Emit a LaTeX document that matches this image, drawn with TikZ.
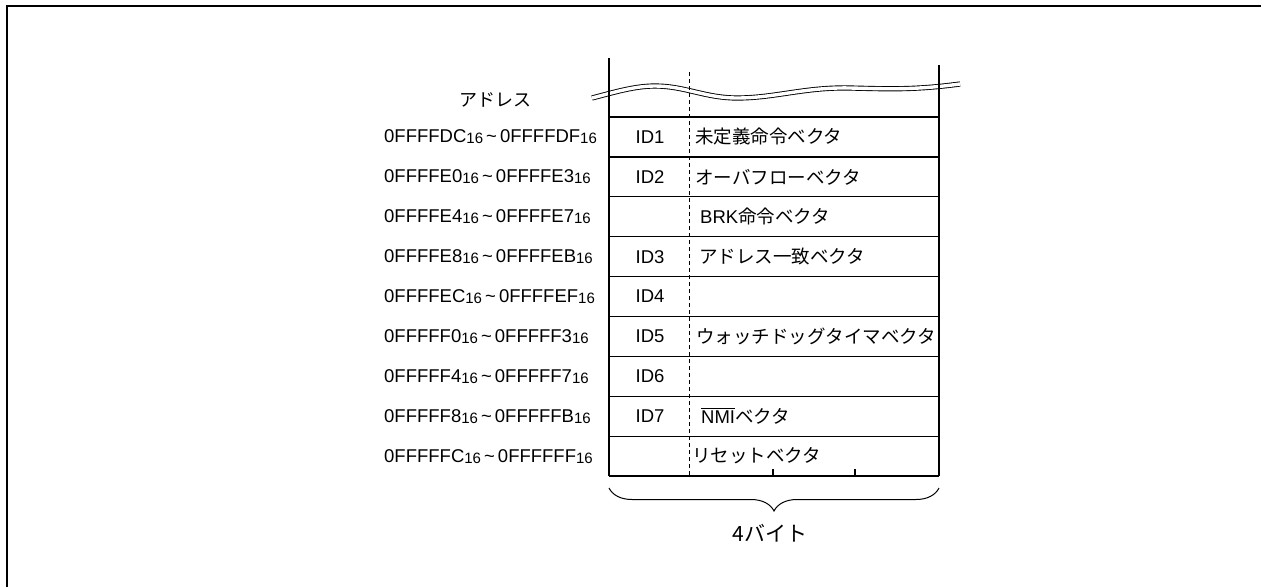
\documentclass[tikz,border=0pt]{standalone}
\usepackage{fontspec}
\setmainfont{Liberation Sans}
\newfontfamily\jp{Noto Sans CJK JP}
\usetikzlibrary{
  decorations.pathreplacing,
  positioning
}
\newcommand{\hexsub}{\raisebox{-1pt}{\fontsize{15}{16}\selectfont 16}}
\newcommand{\addrpair}[2]{#1\hexsub\,\textasciitilde\,#2\hexsub}
\newcommand{\overbar}[1]{\leavevmode\vbox{\hrule height 0.9pt\kern 2pt\hbox{#1}}}
\tikzset{
  wall/.style={line width=2pt,draw=black},
  cell line/.style={line width=1.3pt,draw=black},
  byte split/.style={line width=1pt,draw=black,dash pattern=on 4pt off 3pt},
  wave/.style={draw=black,line width=0.9pt,double=white,double distance=3.4pt},
  addrlabel/.style={anchor=west,inner sep=0pt},
  idlabel/.style={inner sep=0pt},
  veclabel/.style={anchor=west,inner sep=0pt,font=\fontsize{18.5}{22}\selectfont\jp}
}

\begin{document}
\begin{tikzpicture}[x=1pt,y=-1pt,font=\fontsize{18.5}{22}\selectfont]
  \useasboundingbox (0,0) rectangle (1261,587);
  \draw[line width=2pt] (6.5,587) -- (6.5,6) -- (1261,6);

  % break in the memory map
  \draw[wave] (592,98) .. controls (615,92) and (635,86) .. (655,86)
    .. controls (685,86) and (705,98) .. (737,98)
    .. controls (775,98) and (805,87) .. (850,88)
    .. controls (890,89) and (915,90) .. (960,84);

  \coordinate (wl top) at (609,58);
  \coordinate (wl bot) at (609,476);
  \coordinate (wr top) at (939,65);
  \coordinate (wr bot) at (939,476);
  \coordinate (split top) at (689,72);
  \coordinate (split bot) at (689,476);

  \draw[byte split] (split top) -- (split bot);
  \draw[wall] (wl top) -- (wl bot);
  \draw[wall] (wr top) -- (wr bot);

  \foreach \i in {0,...,9} {
    \pgfmathsetmacro\yy{117+39.9*\i}
    \draw[cell line] (609,\yy) -- (939,\yy);
  }
  \draw[cell line] (773,476) -- (773,469);
  \draw[cell line] (855,476) -- (855,469);

  \node[font=\fontsize{18}{22}\selectfont\jp] (addrhead) at (495,100) {アドレス};

  \foreach \i/\lo/\hi/\id/\vec/\dx in {
    1/0FFFFDC/0FFFFDF/ID1/{未定義命令ベクタ}/6,
    2/0FFFFE0/0FFFFE3/ID2/{オーバフローベクタ}/6,
    3/0FFFFE4/0FFFFE7//{\rmfamily BRK\jp 命令ベクタ}/11,
    4/0FFFFE8/0FFFFEB/ID3/{アドレス一致ベクタ}/10,
    5/0FFFFEC/0FFFFEF/ID4//0,
    6/0FFFFF0/0FFFFF3/ID5/{ウォッチドッグタイマベクタ}/7,
    7/0FFFFF4/0FFFFF7/ID6//0,
    8/0FFFFF8/0FFFFFB/ID7/{\rmfamily\overbar{NMI}\jp ベクタ}/12,
    9/0FFFFFC/0FFFFFF//{リセットベクタ}/3} {
    \pgfmathsetmacro\yy{97.05+39.9*\i}
    \node[addrlabel] (addr\i) at (384,\yy) {\addrpair{\lo}{\hi}};
    \node[idlabel] (id\i) at (650,\yy) {\id};
    \node[veclabel] (vec\i) at (689+\dx,\yy) {\vec};
  }

  \draw[line width=1pt,decorate,decoration={brace,mirror,amplitude=23pt}]
    (609,488) -- (939,488);
  \node[font=\fontsize{21}{24}\selectfont\jp] (width) at (770,533) {4バイト};
\end{tikzpicture}
\end{document}
